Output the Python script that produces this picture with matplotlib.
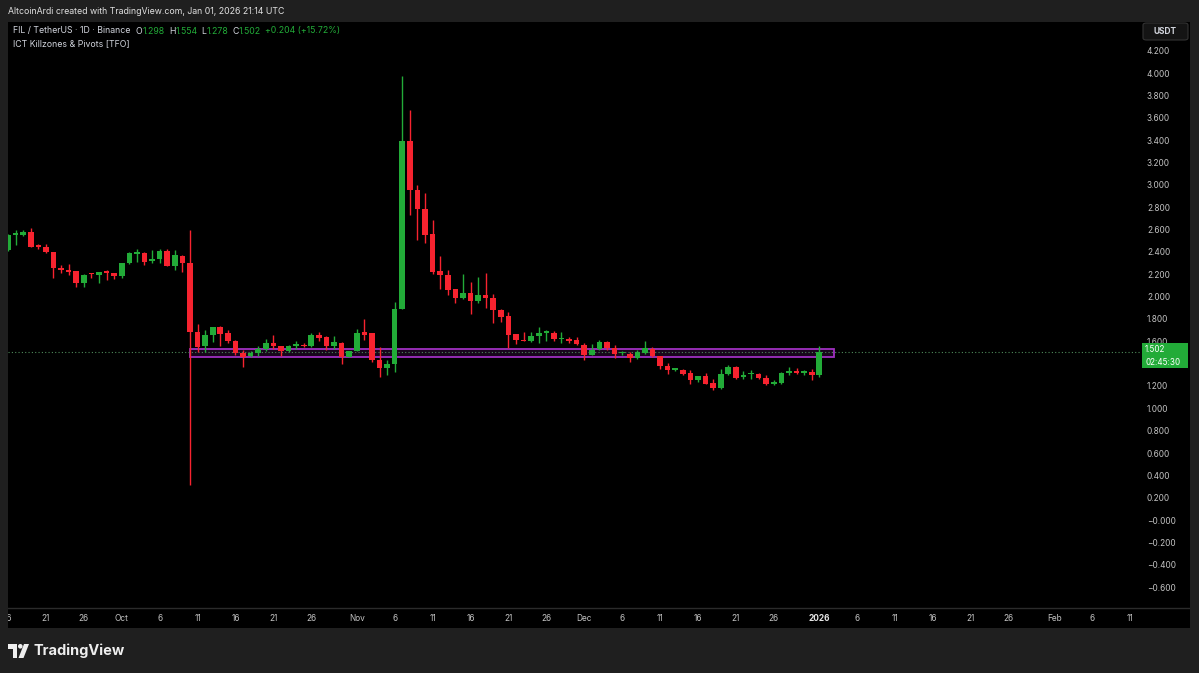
import matplotlib
matplotlib.use('Agg')
import matplotlib.pyplot as plt
import matplotlib.dates as mdates
from matplotlib.patches import Rectangle, Polygon, Circle, FancyBboxPatch
import numpy as np
import pandas as pd

plt.rcParams['font.family'] = ['Inter', 'DejaVu Sans']

# FIL/USDT 日线 (2025-09-16 ~ 2026-01-01)
FIRST_DAY = '2025-09-16'
opens = [
    # Sep 16-30
    2.42, 2.55, 2.55, 2.58, 2.455, 2.445, 2.397, 2.257, 2.242, 2.227, 2.117, 2.21, 2.19, 2.225, 2.21,
    # Oct
    2.182, 2.296, 2.385, 2.39, 2.314, 2.332, 2.406, 2.275, 2.365, 2.296, 1.684, 1.555, 1.66, 1.728, 1.675,
    1.603, 1.495, 1.466, 1.495, 1.535, 1.58, 1.558, 1.513, 1.555, 1.57, 1.555, 1.654, 1.639, 1.555, 1.585, 1.46,
    # Nov
    1.513, 1.684, 1.67, 1.436, 1.365, 1.394, 1.893, 3.394, 2.958, 2.78, 2.558, 2.23, 2.197, 2.069, 1.988,
    2.036, 1.961, 2.018, 1.988, 1.884, 1.824, 1.663, 1.615, 1.603, 1.645, 1.675, 1.675, 1.618, 1.624, 1.609,
    # Dec
    1.571, 1.48, 1.535, 1.594, 1.544, 1.495, 1.49, 1.454, 1.499, 1.535, 1.466, 1.376, 1.345, 1.347, 1.316,
    1.257, 1.287, 1.227, 1.185, 1.305, 1.37, 1.281, 1.305, 1.311, 1.272, 1.215, 1.227, 1.316, 1.334, 1.32, 1.325,
    # Jan 1
    1.298,
]
highs = [
    2.56, 2.595, 2.595, 2.61, 2.47, 2.47, 2.40, 2.28, 2.29, 2.23, 2.20, 2.215, 2.22, 2.235, 2.215,
    2.30, 2.40, 2.43, 2.395, 2.415, 2.43, 2.43, 2.415, 2.37, 2.594, 1.752, 1.70, 1.73, 1.735, 1.70,
    1.61, 1.52, 1.51, 1.555, 1.624, 1.654, 1.56, 1.565, 1.603, 1.58, 1.675, 1.684, 1.645, 1.645, 1.59, 1.515,
    1.714, 1.795, 1.675, 1.55, 1.43, 1.952, 3.973, 3.669, 2.997, 2.923, 2.684, 2.361, 2.242, 2.07, 2.20,
    2.13, 2.176, 2.212, 2.027, 1.89, 1.86, 1.665, 1.684, 1.684, 1.728, 1.705, 1.69, 1.68, 1.64, 1.64,
    1.58, 1.573, 1.615, 1.60, 1.565, 1.515, 1.50, 1.52, 1.603, 1.55, 1.47, 1.405, 1.36, 1.355, 1.34,
    1.29, 1.316, 1.266, 1.356, 1.385, 1.38, 1.334, 1.347, 1.315, 1.296, 1.25, 1.325, 1.37, 1.365, 1.345, 1.356,
    1.554,
]
lows = [
    2.41, 2.46, 2.54, 2.44, 2.43, 2.39, 2.17, 2.215, 2.19, 2.087, 2.09, 2.17, 2.117, 2.147, 2.16,
    2.17, 2.29, 2.31, 2.28, 2.30, 2.30, 2.27, 2.24, 2.22, 0.31, 1.505, 1.505, 1.594, 1.555, 1.58,
    1.475, 1.37, 1.455, 1.466, 1.513, 1.535, 1.466, 1.505, 1.535, 1.545, 1.545, 1.603, 1.526, 1.535, 1.40, 1.455,
    1.51, 1.615, 1.415, 1.28, 1.296, 1.325, 1.89, 2.729, 2.505, 2.475, 2.206, 2.072, 2.012, 1.938, 1.975,
    1.842, 1.94, 1.902, 1.759, 1.77, 1.544, 1.573, 1.60, 1.59, 1.58, 1.603, 1.60, 1.585, 1.58, 1.565,
    1.43, 1.475, 1.525, 1.52, 1.454, 1.48, 1.415, 1.445, 1.49, 1.46, 1.355, 1.31, 1.33, 1.30, 1.221,
    1.236, 1.22, 1.161, 1.176, 1.295, 1.265, 1.265, 1.266, 1.265, 1.206, 1.205, 1.22, 1.30, 1.31, 1.30, 1.257,
    1.278,
]
closes = [
    2.55, 2.57, 2.58, 2.445, 2.445, 2.395, 2.26, 2.236, 2.221, 2.117, 2.197, 2.20, 2.218, 2.215, 2.185,
    2.296, 2.388, 2.394, 2.31, 2.332, 2.41, 2.275, 2.37, 2.296, 1.684, 1.55, 1.66, 1.728, 1.669, 1.603,
    1.495, 1.46, 1.495, 1.535, 1.58, 1.555, 1.513, 1.555, 1.573, 1.558, 1.654, 1.633, 1.555, 1.589, 1.46, 1.51,
    1.67, 1.657, 1.435, 1.365, 1.40, 1.893, 3.394, 2.952, 2.78, 2.55, 2.221, 2.191, 2.063, 1.988, 2.036,
    1.961, 2.018, 1.983, 1.878, 1.818, 1.654, 1.615, 1.603, 1.645, 1.675, 1.69, 1.618, 1.633, 1.603, 1.573,
    1.475, 1.526, 1.594, 1.544, 1.484, 1.505, 1.454, 1.504, 1.544, 1.466, 1.376, 1.345, 1.355, 1.311, 1.257,
    1.287, 1.221, 1.185, 1.305, 1.37, 1.275, 1.302, 1.316, 1.272, 1.215, 1.236, 1.316, 1.334, 1.316, 1.325, 1.298,
    1.502,
]

# 紫色区间 (ICT 指标)
zone_start, zone_end = '2025-10-10', '2026-01-03'
zone_low, zone_high = 1.46, 1.535

# 坐标轴刻度
price_ticks = [-0.6, -0.4, -0.2, 0.0, 0.2, 0.4, 0.6, 0.8, 1.0, 1.2, 1.4, 1.6, 1.8,
               2.0, 2.2, 2.4, 2.6, 2.8, 3.0, 3.2, 3.4, 3.6, 3.8, 4.0, 4.2]
date_ticks = ['2025-09-16', '2025-09-21', '2025-09-26', '2025-10-01', '2025-10-06', '2025-10-11',
              '2025-10-16', '2025-10-21', '2025-10-26', '2025-11-01', '2025-11-06', '2025-11-11',
              '2025-11-16', '2025-11-21', '2025-11-26', '2025-12-01', '2025-12-06', '2025-12-11',
              '2025-12-16', '2025-12-21', '2025-12-26', '2026-01-01', '2026-01-06', '2026-01-11',
              '2026-01-16', '2026-01-21', '2026-01-26', '2026-02-01', '2026-02-06', '2026-02-11']
date_labels = ['16', '21', '26', 'Oct', '6', '11', '16', '21', '26', 'Nov', '6', '11', '16', '21', '26',
               'Dec', '6', '11', '16', '21', '26', '2026', '6', '11', '16', '21', '26', 'Feb', '6', '11']
countdown = '02:45:30'

GREEN = '#22ab38'
RED = '#f7232f'
FG = '#d1d4dc'
AXIS_TXT = '#c3c3c3'
FRAME = '#1f1f1f'

W, H = 1199, 673
fig = plt.figure(figsize=(W / 100, H / 100), dpi=100, facecolor=FRAME)


def px_axes(left, top, right, bottom):
    return fig.add_axes([left / W, 1 - bottom / H, (right - left) / W, (bottom - top) / H])


# 黑色图表区域
bg = px_axes(8, 22, 1190, 628)
bg.set_facecolor('#000000')
bg.set_xticks([])
bg.set_yticks([])
for s in bg.spines.values():
    s.set_visible(False)
bg.set_xlim(0, 1)
bg.set_ylim(0, 1)
bg.axhline(20 / 606, color='#2b2b2b', lw=1)

ax = px_axes(8, 22, 1140, 608)
ax.set_facecolor('none')
for s in ax.spines.values():
    s.set_visible(False)

o = np.array(opens)
h = np.array(highs)
l = np.array(lows)
c = np.array(closes)
days = pd.date_range(FIRST_DAY, periods=len(o), freq='D')
x = mdates.date2num(days)
colors = np.where(c >= o, GREEN, RED)

# 区间
zx0 = mdates.date2num(pd.Timestamp(zone_start))
zx1 = mdates.date2num(pd.Timestamp(zone_end))
ax.add_patch(Rectangle((zx0, zone_low), zx1 - zx0, zone_high - zone_low,
                       facecolor=(0.61, 0.15, 0.69, 0.16), edgecolor='#a030c0', lw=1.3, zorder=1))

# 最新价虚线
ax.axhline(c[-1], color='#4f8a5a', ls=(0, (1, 2)), lw=0.8, zorder=1.5)

# K线
ax.vlines(x, l, h, colors=colors, lw=1, zorder=2)
ax.bar(x, np.maximum(np.abs(c - o), 0.012), bottom=np.minimum(o, c), width=0.74,
       color=colors, lw=0, zorder=3)

oct1 = mdates.date2num(pd.Timestamp('2025-10-01'))
ax.set_xlim(oct1 - 14.6, oct1 + 134.3)
ax.set_ylim(-0.787, 4.457)

# 价格轴
ax.yaxis.tick_right()
ax.set_yticks(price_ticks)
ax.set_yticklabels(['\u22120.000' if v == 0 else f'{v:.3f}'.replace('-', '\u2212') for v in price_ticks])
ax.tick_params(axis='y', length=0, pad=5, labelsize=6, labelcolor=AXIS_TXT)
# 被最新价标签遮住的刻度
box_lo, box_hi = c[-1] - 0.145, c[-1] + 0.083
for v, lbl in zip(price_ticks, ax.get_yticklabels()):
    if box_lo <= v <= box_hi:
        lbl.set_visible(False)

# 时间轴
ax.set_xticks(mdates.date2num(pd.to_datetime(date_ticks)))
ax.set_xticklabels(date_labels)
ax.tick_params(axis='x', length=0, pad=4.5, labelsize=6, labelcolor=AXIS_TXT)
for lbl in ax.get_xticklabels():
    if lbl.get_text() == '2026':
        lbl.set_fontweight('bold')
        lbl.set_color('#e6e6e6')
    lbl.set_clip_path(bg.patch)

# 最新价标签
ytr = ax.get_yaxis_transform()
ax.add_patch(Rectangle((1134 / 1132, box_lo), 46 / 1132, box_hi - box_lo, transform=ytr,
                       facecolor=GREEN, edgecolor='none', clip_on=False, zorder=5))
ax.text(1137 / 1132, c[-1] + 0.02, f'{c[-1]:.3f}', transform=ytr, color='white', fontsize=5.8,
        va='center', ha='left', zorder=6)
ax.text(1137 / 1132, c[-1] - 0.088, countdown, transform=ytr, color='white', fontsize=5.8,
        va='center', ha='left', zorder=6)

# USDT 按钮
fig.patches.append(FancyBboxPatch(
    (1143 / W, 1 - 40 / H), 45 / W, 17 / H, boxstyle='round,pad=0,rounding_size=0.003',
    transform=fig.transFigure, facecolor='#141414', edgecolor='#333333', lw=0.8, zorder=4))
fig.text(1165.5 / W, 1 - 31.5 / H, 'USDT', ha='center', va='center', fontsize=6,
         fontweight='bold', color=FG, zorder=5)

# 顶部文字
fig.text(8 / W, 1 - 11 / H, 'AltcoinArdi created with TradingView.com, Jan 01, 2026 21:14 UTC',
         fontsize=6.3, color='#e0e0e0', va='center', ha='left')

chg = c[-1] - c[-2]
parts = [
    ('FIL / TetherUS \u00b7 1D \u00b7 Binance', FG, 0),
    ('O', FG, 4), (f'{o[-1]:.3f}', GREEN, 0),
    ('H', FG, 3), (f'{h[-1]:.3f}', GREEN, 0),
    ('L', FG, 3), (f'{l[-1]:.3f}', GREEN, 0),
    ('C', FG, 3), (f'{c[-1]:.3f}', GREEN, 0),
    (f'+{chg:.3f} (+{chg / c[-2] * 100:.2f}%)', GREEN, 3),
]
prev = fig.text(13 / W, 1 - 31 / H, parts[0][0], color=parts[0][1], fontsize=6.3,
                va='center', ha='left')
for txt, col, gap in parts[1:]:
    prev = bg.annotate(txt, xy=(1, 0), xycoords=prev, xytext=(gap, 0), textcoords='offset points',
                       color=col, fontsize=6.3, va='bottom', ha='left', annotation_clip=False)
fig.text(13 / W, 1 - 44 / H, 'ICT Killzones & Pivots [TFO]', color=FG, fontsize=6.3,
         va='center', ha='left')

# TradingView 标志
logo = px_axes(8, 644, 29, 658)
logo.set_xlim(0, 21)
logo.set_ylim(14, 0)
logo.axis('off')
logo.add_patch(Polygon([(0, 0), (9, 0), (9, 14), (4.5, 14), (4.5, 4.5), (0, 4.5)],
                       closed=True, facecolor='#eeeeee', edgecolor='none'))
logo.add_patch(Circle((12.3, 2.3), 2.3, facecolor='#eeeeee', edgecolor='none'))
logo.add_patch(Polygon([(16, 0), (21, 0), (15.5, 14), (10.5, 14)], closed=True,
                       facecolor='#eeeeee', edgecolor='none'))
fig.text(33 / W, 1 - 651 / H, 'TradingView', fontsize=10.5, fontweight='bold',
         color='#eeeeee', va='center', ha='left')

fig.savefig('out.png', dpi=100, facecolor=FRAME)
